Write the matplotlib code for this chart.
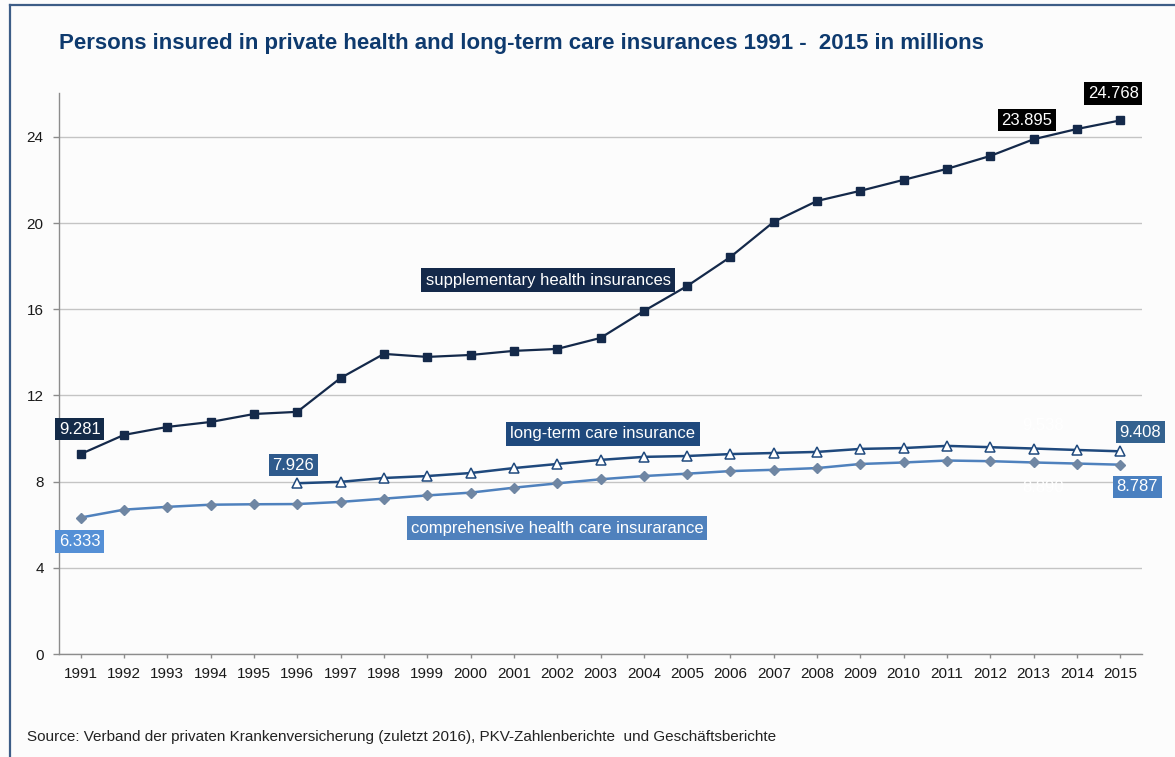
import matplotlib
matplotlib.use("Agg")
import matplotlib.pyplot as plt
from matplotlib.lines import Line2D

plt.rcParams['font.family'] = ['Liberation Sans', 'DejaVu Sans']

years = list(range(1991, 2016))
supplementary = [9.281, 10.17, 10.54, 10.77, 11.14, 11.24, 12.81, 13.93, 13.79, 13.88,
                 14.07, 14.16, 14.67, 15.92, 17.08, 18.43, 20.06, 21.03, 21.50, 22.01,
                 22.52, 23.12, 23.895, 24.37, 24.768]
ltc_years = list(range(1996, 2016))
long_term_care = [7.926, 7.99, 8.17, 8.26, 8.40, 8.63, 8.82, 9.01, 9.15, 9.19,
                  9.28, 9.33, 9.38, 9.52, 9.56, 9.66, 9.60, 9.538, 9.47, 9.408]
comprehensive = [6.333, 6.70, 6.83, 6.93, 6.95, 6.96, 7.06, 7.21, 7.36, 7.49,
                 7.72, 7.92, 8.11, 8.26, 8.37, 8.49, 8.55, 8.63, 8.82, 8.89,
                 8.98, 8.95, 8.890, 8.84, 8.787]
y_ticks = [0, 4, 8, 12, 16, 20, 24]

W, H = 1175, 757
fig = plt.figure(figsize=(W / 100, H / 100), dpi=100, facecolor='#fcfcfc')

def fx(px):
    return px / W

def fy(py):
    return 1 - py / H

ax_l, ax_r, ax_t, ax_b = 59, 1142, 93, 654
ax = fig.add_axes([fx(ax_l), fy(ax_b), fx(ax_r - ax_l), (ax_b - ax_t) / H])
ax.set_facecolor('#fcfcfc')

c_sup = '#14294a'
c_ltc = '#1f497d'
c_comp = '#4f81bd'

ax.plot(years, supplementary, color=c_sup, lw=1.6, marker='s', ms=6,
        mfc=c_sup, mec=c_sup, zorder=4)
ax.plot(ltc_years, long_term_care, color=c_ltc, lw=1.8, marker='^', ms=7.5,
        mfc='white', mec=c_ltc, mew=1.1, zorder=4)
ax.plot(years, comprehensive, color=c_comp, lw=1.8, marker='D', ms=5.5,
        mfc='#6f86a3', mec='#6f86a3', zorder=3)

ax.set_xlim(1990.5, 2015.5)
ax.set_ylim(0, 26.04)
ax.set_yticks(y_ticks)
ax.set_xticks(years)
ax.set_xticklabels([str(y) for y in years])
ax.grid(axis='y', color='#c4c4c4', lw=1.0)
ax.set_axisbelow(True)
for s in ['top', 'right']:
    ax.spines[s].set_visible(False)
for s in ['left', 'bottom']:
    ax.spines[s].set_color('#8c8c8c')
    ax.spines[s].set_linewidth(1.0)
ax.tick_params(axis='y', length=4, width=1, color='#8c8c8c', pad=7,
               labelsize=11, labelcolor='#1a1a1a')
ax.tick_params(axis='x', length=3, width=1, color='#8c8c8c', pad=6,
               labelsize=11, labelcolor='#1a1a1a')

def vlabel(x, y, text, dx, dy, fc, tc='white'):
    ax.annotate(text, xy=(x, y), xytext=(dx, dy), textcoords='offset pixels',
                ha='center', va='center', fontsize=12, color=tc, zorder=6,
                bbox=dict(boxstyle='square,pad=0.22', fc=fc, ec='none') if fc else None)

vlabel(years[-1], supplementary[-1], '24.768', -7, 27, '#000000')
vlabel(years[-3], supplementary[-3], '23.895', -7, 19, '#000000')
vlabel(years[0], supplementary[0], '9.281', -1, 25, '#132a48')
vlabel(ltc_years[0], long_term_care[0], '7.926', -4, 18, '#2e5a8c')
vlabel(years[0], comprehensive[0], '6.333', -1, -24, '#5590d6')
vlabel(ltc_years[-1], long_term_care[-1], '9.408', 20, 19, '#34628f')
vlabel(years[-1], comprehensive[-1], '8.787', 17, -22, '#4a80c0')
vlabel(ltc_years[-3], long_term_care[-3], '9.538', 9, 23, None, tc='white')
vlabel(years[-3], comprehensive[-3], '8.890', 9, -25, None, tc='white')

def series_label(cx, cy, text, fc):
    fig.text(fx(cx), fy(cy), text, ha='center', va='center', fontsize=12,
             color='white', zorder=6,
             bbox=dict(boxstyle='square,pad=0.25', fc=fc, ec='none'))

series_label(548, 280, 'supplementary health insurances', c_sup)
series_label(603, 434, 'long-term care insurance', c_ltc)
series_label(557, 528, 'comprehensive health care insurarance', c_comp)

fig.text(fx(59), fy(43), 'Persons insured in private health and long-term care insurances 1991 -  2015 in millions',
         ha='left', va='center', fontsize=16, fontweight='bold', color='#0e3a6e')
fig.text(fx(27), fy(737), 'Source: Verband der privaten Krankenversicherung (zuletzt 2016), PKV-Zahlenberichte  und Geschäftsberichte',
         ha='left', va='center', fontsize=11, color='#222222')

fig.add_artist(Line2D([fx(10), 1], [fy(5), fy(5)], color='#3d5d87', lw=1.6,
                      transform=fig.transFigure))
fig.add_artist(Line2D([fx(10), fx(10)], [fy(5), 0], color='#3d5d87', lw=1.6,
                      transform=fig.transFigure))

fig.savefig('out.png', dpi=100, facecolor=fig.get_facecolor())
